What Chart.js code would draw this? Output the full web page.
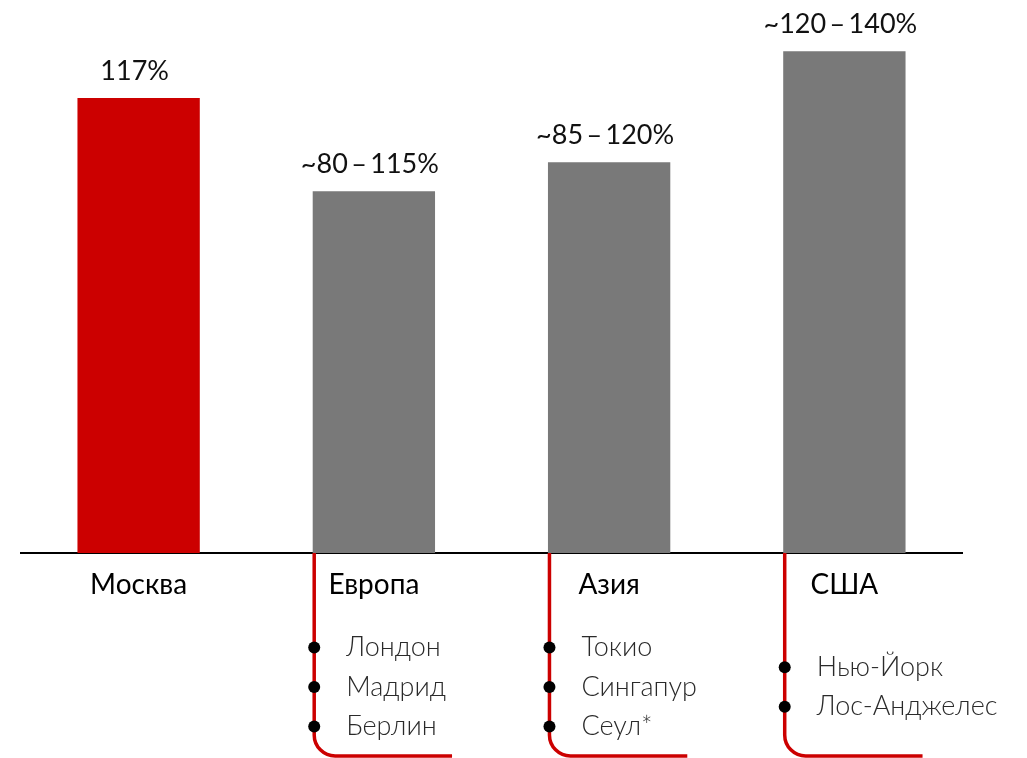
<!DOCTYPE html>
<html>
<head>
<meta charset="utf-8">
<script src="https://cdn.jsdelivr.net/npm/chart.js@4/dist/chart.umd.min.js"></script>
<style>
  html, body { margin: 0; padding: 0; background: #ffffff; }
  #wrap { width: 1027px; height: 758px; }
</style>
</head>
<body>
<div id="wrap"><canvas id="c" width="1027" height="758"></canvas></div>
<script>
// ---- data ----
const categories = ['Москва', 'Европа', 'Азия', 'США'];
const values = [117, 93, 100.5, 129];
const valueLabels = ['117%', '~80\u2009–\u2009115%', '~85\u2009–\u2009120%', '~120\u2009–\u2009140%'];
const cities = [
  [],
  ['Лондон', 'Мадрид', 'Берлин'],
  ['Токио', 'Сингапур', 'Сеул*'],
  ['Нью-Йорк', 'Лос-Анджелес']
];

// ---- styles ----
const RED = '#CC0000';
const GRAY = '#797979';
const FONT = 'Lato, "Open Sans", sans-serif';
const LIGHT_FONT = '"Lato Light", Lato, "Open Sans", sans-serif';

const annotate = {
  id: 'annotate',
  afterDatasetsDraw(chart) {
    const ctx = chart.ctx;
    const meta = chart.getDatasetMeta(0);
    ctx.save();
    ctx.fillStyle = '#111';
    ctx.font = '27px ' + FONT;
    ctx.textAlign = 'center';
    ctx.textBaseline = 'alphabetic';
    meta.data.forEach((bar, i) => {
      ctx.fillText(valueLabels[i], bar.x - 4, bar.y - 18);
    });
    ctx.restore();
  },
  afterDraw(chart) {
    const ctx = chart.ctx;
    const meta = chart.getDatasetMeta(0);
    const base = chart.chartArea.bottom;
    const yBottom = base + 203;
    const r = 21;
    meta.data.forEach((bar, i) => {
      const list = cities[i];
      if (!list.length) return;
      const x0 = bar.x - bar.width / 2 + 1.5;
      const xEnd = bar.x + bar.width / 2 + 17;
      ctx.save();
      ctx.strokeStyle = RED;
      ctx.lineWidth = 3.5;
      ctx.beginPath();
      ctx.moveTo(x0, base);
      ctx.lineTo(x0, yBottom - r);
      ctx.arcTo(x0, yBottom, x0 + r, yBottom, r);
      ctx.lineTo(xEnd, yBottom);
      ctx.stroke();
      const cy = base + 134;
      const n = list.length;
      list.forEach((name, j) => {
        const y = cy + (j - (n - 1) / 2) * 39.5;
        ctx.fillStyle = '#000';
        ctx.beginPath();
        ctx.arc(x0, y, 6, 0, Math.PI * 2);
        ctx.fill();
        ctx.fillStyle = '#2a2a2a';
        ctx.font = '300 27px ' + LIGHT_FONT;
        ctx.textAlign = 'left';
        ctx.textBaseline = 'middle';
        ctx.fillText(name, x0 + 32, y);
      });
      ctx.restore();
    });
  }
};

new Chart(document.getElementById('c'), {
  type: 'bar',
  data: {
    labels: categories,
    datasets: [{
      data: values,
      backgroundColor: (c) => c.dataIndex === 0 ? RED : GRAY,
      borderWidth: 0,
      categoryPercentage: 1,
      barPercentage: 0.52
    }]
  },
  options: {
    responsive: false,
    animation: false,
    devicePixelRatio: 1,
    layout: { padding: { left: 21, right: 65, top: 0, bottom: 0 } },
    plugins: { legend: { display: false }, tooltip: { enabled: false } },
    scales: {
      x: {
        grid: { display: false, drawTicks: false },
        border: { display: true, color: '#000', width: 2 },
        ticks: { color: '#000', font: { family: FONT, size: 28 }, padding: 15, maxRotation: 0 },
        afterFit: (s) => { s.height = 758 - 553; }
      },
      y: {
        display: false,
        min: 0,
        max: 142.2
      }
    }
  },
  plugins: [annotate]
});
</script>
</body>
</html>
